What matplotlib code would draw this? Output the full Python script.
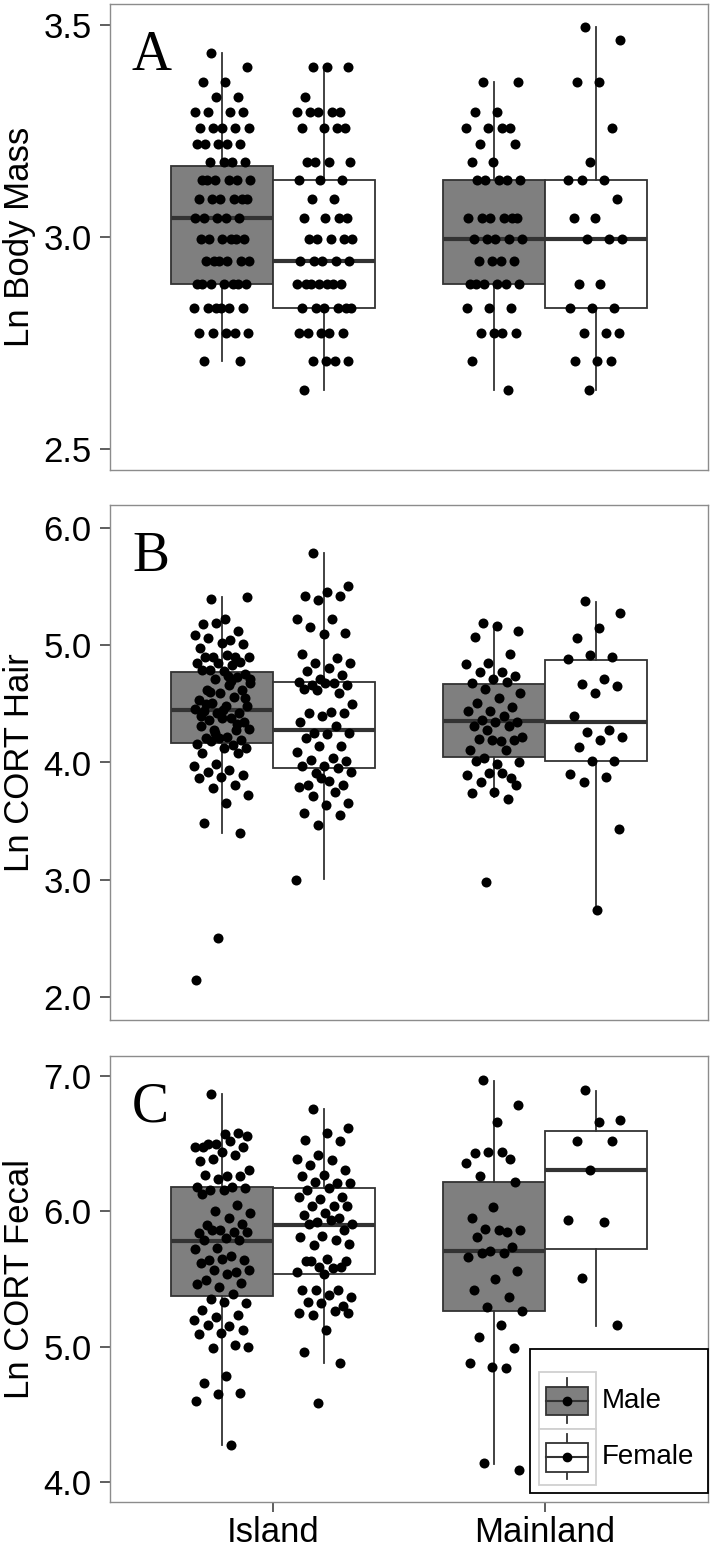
import numpy as np
import matplotlib.pyplot as plt
from matplotlib.patches import Rectangle

plt.rcParams['font.family'] = ['Liberation Sans', 'DejaVu Sans']

sites = ["Island", "Mainland"]
sexes = ["Male", "Female"]

# Panel A - body mass sits on whole-gram levels, so keep counts per level
mass_levels = [33, 32, 31, 30, 29, 28, 27, 26, 25, 24, 23, 22, 21, 20, 19, 18, 17, 16, 15, 14]
mass_island_male = [0, 0, 1, 1, 2, 2, 4, 5, 5, 4, 6, 6, 5, 6, 6, 7, 6, 5, 2, 0]
mass_island_female = [0, 0, 0, 3, 0, 1, 5, 4, 0, 4, 3, 2, 4, 5, 5, 7, 6, 5, 4, 1]
mass_main_male = [0, 0, 0, 0, 2, 0, 2, 4, 2, 2, 5, 0, 6, 5, 4, 6, 3, 4, 1, 1]
mass_main_female = [1, 1, 0, 0, 2, 0, 0, 1, 0, 1, 3, 1, 2, 3, 0, 2, 3, 3, 3, 1]

# Panel B - ln CORT hair
hair_island_male = [5.40, 5.41, 5.23, 5.18, 5.12, 5.19, 5.09, 5.05, 5.06, 5.01, 5.02, 4.98,
                    4.90, 4.90, 4.90, 4.92, 4.90, 4.86, 4.85, 4.85, 4.83, 4.79, 4.76, 4.78,
                    4.79, 4.73, 4.71, 4.71, 4.66, 4.62, 4.62, 4.59, 4.53, 4.56, 4.51, 4.48,
                    4.48, 4.44, 4.42, 4.42, 4.46, 4.38, 4.36, 4.35, 4.38, 4.31, 4.28, 4.28,
                    4.29, 4.22, 4.21, 4.19, 4.21, 4.16, 4.15, 4.18, 4.12, 4.12, 4.08, 4.08,
                    3.99, 3.97, 3.94, 3.92, 3.89, 3.88, 3.87, 3.81, 3.78, 3.72, 3.65, 3.48,
                    3.40, 2.50, 2.14, 4.70, 4.60, 4.55, 4.45, 4.40, 4.33, 4.25, 4.68, 4.74, 4.50]
hair_island_female = [5.79, 5.51, 5.46, 5.42, 5.42, 5.39, 5.23, 5.23, 5.16, 5.11, 5.10, 4.93,
                      4.89, 4.85, 4.85, 4.81, 4.78, 4.75, 4.71, 4.69, 4.68, 4.66, 4.66, 4.68,
                      4.63, 4.59, 4.62, 4.50, 4.43, 4.42, 4.42, 4.40, 4.35, 4.31, 4.25, 4.25,
                      4.24, 4.21, 4.14, 4.14, 4.09, 4.04, 4.02, 4.01, 3.97, 3.97, 3.95, 3.91,
                      3.92, 3.84, 3.81, 3.81, 3.87, 3.79, 3.75, 3.71, 3.65, 3.64, 3.57, 3.55,
                      3.47, 3.00]
hair_main_male = [5.19, 5.12, 5.17, 5.07, 4.93, 4.85, 4.84, 4.77, 4.77, 4.74, 4.71, 4.68,
                  4.69, 4.63, 4.59, 4.55, 4.51, 4.47, 4.44, 4.44, 4.40, 4.36, 4.35, 4.35,
                  4.31, 4.31, 4.28, 4.22, 4.18, 4.20, 4.19, 4.19, 4.11, 4.11, 4.04, 4.00,
                  3.99, 4.01, 3.87, 3.91, 3.89, 3.91, 3.83, 3.81, 3.75, 3.74, 3.69, 2.98]
hair_main_female = [5.38, 5.28, 5.15, 5.06, 4.90, 4.92, 4.88, 4.71, 4.67, 4.65, 4.59, 4.40,
                    4.28, 4.26, 4.22, 4.19, 4.13, 4.01, 4.01, 3.90, 3.88, 3.83, 3.43, 2.74]

# Panel C - ln CORT fecal
fecal_island_male = [6.87, 6.56, 6.57, 6.48, 6.58, 6.50, 6.48, 6.52, 6.50, 6.48, 6.44, 6.37,
                     6.42, 6.39, 6.31, 6.26, 6.27, 6.26, 6.24, 6.18, 6.18, 6.16, 6.17, 6.16,
                     6.13, 6.05, 6.00, 5.99, 5.95, 5.90, 5.91, 5.86, 5.84, 5.85, 5.86, 5.85,
                     5.80, 5.79, 5.79, 5.73, 5.72, 5.67, 5.64, 5.64, 5.65, 5.62, 5.55, 5.57,
                     5.57, 5.54, 5.49, 5.47, 5.44, 5.46, 5.39, 5.35, 5.32, 5.33, 5.27, 5.23,
                     5.22, 5.20, 5.15, 5.16, 5.12, 5.10, 5.09, 5.01, 4.99, 5.00, 4.78, 4.73,
                     4.66, 4.65, 4.60, 4.27]
fecal_island_female = [6.76, 6.62, 6.58, 6.53, 6.52, 6.42, 6.39, 6.38, 6.34, 6.31, 6.27, 6.26,
                       6.21, 6.22, 6.21, 6.17, 6.16, 6.11, 6.09, 6.11, 6.04, 6.04, 6.04, 5.99,
                       5.97, 5.95, 5.92, 5.91, 5.94, 5.91, 5.86, 5.82, 5.81, 5.79, 5.75, 5.76,
                       5.65, 5.63, 5.59, 5.59, 5.55, 5.58, 5.63, 5.63, 5.54, 5.42, 5.42, 5.42,
                       5.37, 5.38, 5.33, 5.30, 5.32, 5.25, 5.26, 5.23, 5.25, 5.12, 4.96, 4.88,
                       4.58]
fecal_main_male = [6.97, 6.79, 6.66, 6.43, 6.39, 6.44, 6.36, 6.44, 6.26, 6.22, 6.03, 5.95,
                   5.85, 5.87, 5.86, 5.86, 5.81, 5.74, 5.71, 5.66, 5.69, 5.69, 5.56, 5.50,
                   5.42, 5.37, 5.29, 5.26, 5.16, 5.07, 4.99, 4.85, 4.88, 4.84, 4.14, 4.09]
fecal_main_female = [6.90, 6.68, 6.66, 6.52, 6.52, 6.31, 5.94, 5.92, 5.51, 5.16]

# box stats: [whisker low, q1, median, q3, whisker high]
# order: island male, island female, mainland male, mainland female
box_mass = [[2.708, 2.889, 3.045, 3.168, 3.434],
            [2.639, 2.833, 2.944, 3.135, 3.401],
            [2.639, 2.890, 2.996, 3.135, 3.367],
            [2.639, 2.833, 2.996, 3.135, 3.497]]
box_hair = [[3.395, 4.164, 4.449, 4.776, 5.417],
            [3.002, 3.950, 4.278, 4.691, 5.787],
            [3.708, 4.050, 4.355, 4.668, 5.175],
            [2.740, 4.013, 4.349, 4.876, 5.374]]
box_fecal = [[4.272, 5.377, 5.781, 6.183, 6.869],
             [4.876, 5.535, 5.900, 6.176, 6.755],
             [4.132, 5.264, 5.710, 6.215, 6.965],
             [5.155, 5.720, 6.307, 6.598, 6.894]]


def mass_values(counts):
    return np.log(np.repeat(mass_levels, counts))


panels = [
    ("A", "Ln Body Mass", box_mass,
     [mass_values(mass_island_male), mass_values(mass_island_female),
      mass_values(mass_main_male), mass_values(mass_main_female)],
     (2.5, 3.5), [2.5, 3.0, 3.5], ["2.5", "3.0", "3.5"]),
    ("B", "Ln CORT Hair", box_hair,
     [hair_island_male, hair_island_female, hair_main_male, hair_main_female],
     (2.0, 6.0), [2, 3, 4, 5, 6], ["2.0", "3.0", "4.0", "5.0", "6.0"]),
    ("C", "Ln CORT Fecal", box_fecal,
     [fecal_island_male, fecal_island_female, fecal_main_male, fecal_main_female],
     (4.0, 7.0), [4, 5, 6, 7], ["4.0", "5.0", "6.0", "7.0"]),
]

# panel frames in pixels (top, bottom) on a 713 x 1550 canvas
W, H = 713, 1550
frames = [(4.3, 470), (505, 1020), (1056, 1502)]
left_px, right_px = 110, 708

box_w = 0.375
fills = ["#7f7f7f", "white", "#7f7f7f", "white"]
positions = [1 - box_w / 2, 1 + box_w / 2, 2 - box_w / 2, 2 + box_w / 2]
edge = "#333333"


def spread(n, w=0.105):
    # even, repeatable horizontal spread (stand-in for ggplot jitter)
    return ((np.arange(n) * 0.618034 + 0.31) % 1 - 0.5) * 2 * w


fig = plt.figure(figsize=(W / 100, H / 100), dpi=100)

for (letter, ylab, boxes, pts, lims, ticks, tlabels), (top, bot) in zip(panels, frames):
    ax = fig.add_axes([left_px / W, 1 - bot / H, (right_px - left_px) / W, (bot - top) / H])
    pad = 0.05 * (lims[1] - lims[0])
    ax.set_ylim(lims[0] - pad, lims[1] + pad)
    ax.set_xlim(0.4, 2.6)

    stats = [dict(whislo=b[0], q1=b[1], med=b[2], q3=b[3], whishi=b[4]) for b in boxes]
    bp = ax.bxp(stats, positions=positions, widths=box_w, patch_artist=True,
                showfliers=False, showcaps=False,
                boxprops=dict(edgecolor=edge, linewidth=1.3),
                whiskerprops=dict(color=edge, linewidth=1.3),
                medianprops=dict(color=edge, linewidth=3.0, solid_capstyle='butt'))
    for patch, fc in zip(bp['boxes'], fills):
        patch.set_facecolor(fc)

    for pos, vals in zip(positions, pts):
        vals = np.asarray(vals)
        ax.scatter(pos + spread(len(vals)), vals, s=52, color="black",
                   linewidths=0, zorder=5)

    ax.set_yticks(ticks)
    ax.set_yticklabels(tlabels)
    ax.tick_params(axis='y', labelsize=25, length=7.2, width=1.1, color=edge, pad=6)
    ax.set_ylabel(ylab, fontsize=25)
    ax.yaxis.set_label_coords(-0.124, 0.5)
    for sp in ax.spines.values():
        sp.set_color("#8c8c8c")
        sp.set_linewidth(1.0)

    if letter == "C":
        ax.set_xticks([1, 2])
        ax.set_xticklabels(sites)
        ax.tick_params(axis='x', labelsize=25, length=7.2, width=1.1, color=edge, pad=3)
    else:
        ax.set_xticks([])

    ax.text(22 / (right_px - left_px), 1 - 66 / (bot - top), letter,
            transform=ax.transAxes, fontsize=40, family='Liberation Serif',
            va='baseline', ha='left')

# legend drawn in its own small overlay (pixel units)
lax = fig.add_axes([529 / W, 1 - 1494 / H, 180 / W, 146 / H])
lax.set_xlim(0, 180)
lax.set_ylim(146, 0)
lax.axis('off')
lax.add_patch(Rectangle((0.6, 0.6), 178.8, 144.8, fill=False, ec="black", lw=1.3))
for i, (sex, fc) in enumerate(zip(sexes, ["#7f7f7f", "white"])):
    y0 = 24 + i * 56.5
    cy = y0 + 28.5
    lax.add_patch(Rectangle((10, y0), 57, 56.5, fc="white", ec="#d0d0d0", lw=1.3))
    lax.plot([38, 38], [cy - 23, cy + 22], color=edge, lw=1.3)
    lax.add_patch(Rectangle((17, cy - 14), 42, 28.5, fc=fc, ec=edge, lw=1.3, zorder=3))
    lax.plot([17, 59], [cy, cy], color=edge, lw=1.5, zorder=4)
    lax.plot([38], [cy], "o", color="black", ms=6, zorder=5)
    lax.text(73, cy, sex, fontsize=20, va='center', ha='left')

fig.savefig("out.png", dpi=100)
